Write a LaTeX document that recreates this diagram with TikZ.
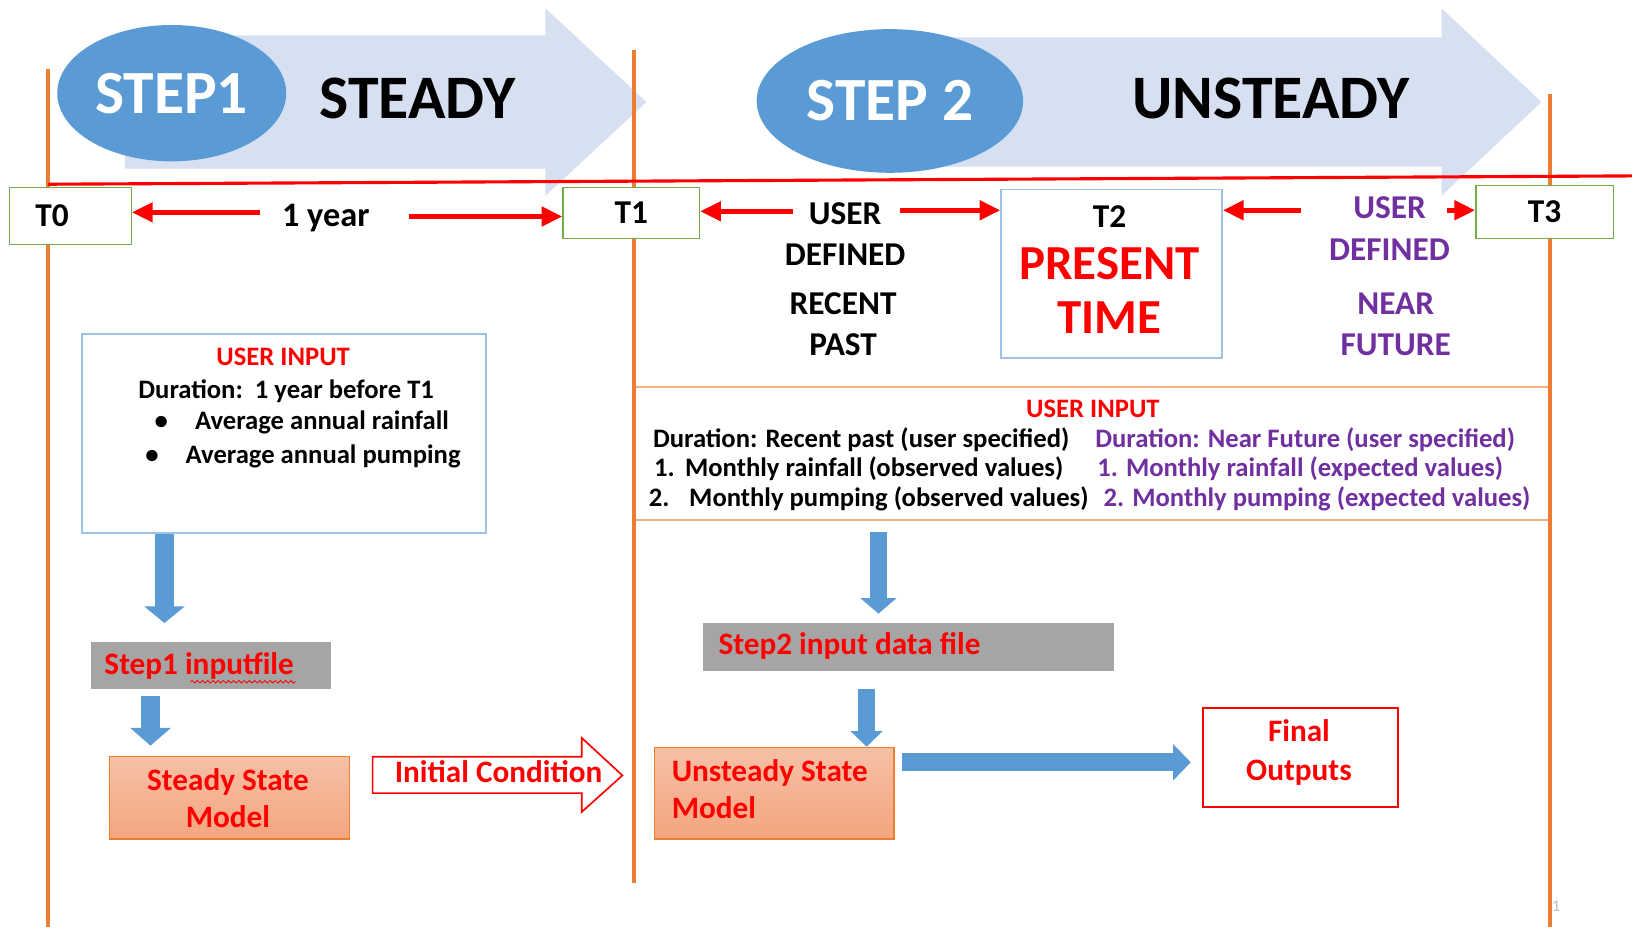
\documentclass[tikz,border=0pt]{standalone}
\usepackage{fontspec}
\setmainfont{Carlito}
\usetikzlibrary{arrows.meta,shapes.geometric,decorations.pathmorphing}
\definecolor{orangeL}{HTML}{ED7D31}
\definecolor{lblue}{HTML}{D6E0F1}
\definecolor{eblue}{HTML}{5B9BD5}
\definecolor{tgreen}{HTML}{70AD47}
\definecolor{purp}{HTML}{7030A0}
\definecolor{gbox}{HTML}{A5A5A5}
\definecolor{bxblue}{HTML}{9DC3E6}
\definecolor{lorange}{HTML}{F4B183}
\definecolor{salTop}{HTML}{F6C0A6}
\definecolor{salBot}{HTML}{F4A57F}
\tikzset{
  tbox/.style={draw=tgreen, line width=0.6pt, fill=white, inner sep=0pt, font=\fontsize{16}{18}\selectfont\bfseries},
  txt/.style={inner sep=0pt, font=\fontsize{#1}{#1}\selectfont\bfseries},
  redarr/.style={draw=red, line width=2.5pt, -{Triangle[length=10pt,width=9pt]}},
  salmon/.style={draw=orangeL, line width=0.6pt, top color=salTop, bottom color=salBot, inner sep=0pt},
  graybox/.style={fill=gbox, inner sep=0pt},
  bigball/.style={ellipse, fill=eblue, inner sep=0pt, text=white, font=\fontsize{29.5}{31}\selectfont\bfseries}
}
\begin{document}
\begin{tikzpicture}[x=0.5pt,y=-0.5pt]
\useasboundingbox (0,0) rectangle (1568,891);
\fill[white] (0,0) rectangle (1568,891);

% big light arrows
\fill[lblue] (120,34) -- (524,34) -- (524,8) -- (621,98) -- (524,188) -- (524,162) -- (120,162) -- cycle;
\fill[lblue] (860,36) -- (1385,36) -- (1385,8) -- (1481,98) -- (1385,188) -- (1385,160) -- (860,160) -- cycle;

\node[bigball, minimum width=110pt, minimum height=65.5pt] (s1) at (165,89.5) {STEP1};
\node[bigball, minimum width=128pt, minimum height=69pt] (s2) at (855,97) {STEP 2};
\node[txt=29.7] (steady) at (401,95) {STEADY};
\node[txt=29.7] (unsteady) at (1221,95) {UNSTEADY};

% user input box 2 (frame)
\node[draw=lorange, line width=1pt, minimum width=440pt, minimum height=64pt, inner sep=0pt] (ui2) at (1049,436) {};

% orange time lines
\draw[orangeL, line width=2pt] (46,66) -- (46,891);
\draw[orangeL, line width=2pt] (609,48) -- (609,848);
\draw[orangeL, line width=2pt] (1489,90) -- (1489,891);

% red time axis
\draw[red, line width=1.5pt] (46,177) -- (1568,169);

% time boxes
\node[tbox, minimum width=58.5pt, minimum height=27.5pt] (T0) at (67.5,207.5) {T0\kern17.5pt};
\node[tbox, minimum width=65.5pt, minimum height=24.5pt] (T1) at (606.5,204.5) {T1};
\node[tbox, minimum width=66pt, minimum height=25.5pt] (T3) at (1484,203.5) {T3};
\node[draw=bxblue, line width=0.8pt, fill=white, minimum width=106pt, minimum height=81pt, inner sep=0pt] (T2) at (1068,263) {};
\node[txt=16] (t2lab) at (1066,208) {T2};
\node[txt=23.5, text=red] (present) at (1066,253) {PRESENT};
\node[txt=23.5, text=red] (time) at (1066,305) {TIME};

% period labels
\node[txt=16.5, anchor=base] (year) at (313,218) {1 year};
\node[txt=16] (u1) at (812,205) {USER};
\node[txt=16] (d1) at (812,245) {DEFINED};
\node[txt=16] (r1) at (810,292) {RECENT};
\node[txt=16] (p1) at (810,331) {PAST};
\node[txt=16, text=purp] (u2) at (1335,200) {USER};
\node[txt=16, text=purp] (d2) at (1335,240) {DEFINED};
\node[txt=16, text=purp] (n2) at (1341,292) {NEAR};
\node[txt=16, text=purp] (f2) at (1341,331) {FUTURE};

% red arrows
\coordinate (yl) at (250,204);
\coordinate (yr) at (393,208);
\coordinate (ul) at (762,203);
\coordinate (ur) at (865,202);
\coordinate (pl) at (1250,202);
\coordinate (pr) at (1390,202);
\draw[redarr] (yl) -- (yl -| T0.east);
\draw[redarr] (yr) -- (yr -| T1.west);
\draw[redarr] (ul) -- (ul -| T1.east);
\draw[redarr] (ur) -- (ur -| T2.west);
\draw[redarr] (pl) -- (pl -| T2.east);
\draw[redarr] (pr) -- (pr -| T3.west);

% user input box 1
\node[draw=bxblue, line width=1pt, fill=white, minimum width=194pt, minimum height=95.5pt, inner sep=0pt] (ui1) at (273,416.5) {};
\node[txt=12.8, text=red, anchor=base] (ui1h) at (272,351) {USER INPUT};
\node[txt=12.8, anchor=base] (ui1d) at (275,383) {Duration:\ \ 1 year before T1};
\node[txt=12.8, anchor=base] (b1) at (155,413) {•};
\node[txt=12.8, anchor=base west] (ui1a) at (187,413) {Average annual rainfall};
\node[txt=12.8, anchor=base] (b2) at (146,445) {•};
\node[txt=12.8, anchor=base west] (ui1b) at (178,445) {Average annual pumping};

% user input box 2 texts
\node[txt=12.8, text=red, anchor=base] (ui2h) at (1050,401) {USER INPUT};
\node[txt=12.8, anchor=base west] (l1) at (627,430) {Duration: Recent past (user specified)};
\node[txt=12.8, anchor=base west] (l2) at (628,458) {1.\hspace{5pt}Monthly rainfall (observed values)};
\node[txt=12.8, anchor=base west] (l3) at (623,487) {2.\hspace{9.5pt}Monthly pumping (observed values)};
\node[txt=12.8, text=purp, anchor=base west] (r1l) at (1052,430) {Duration: Near Future (user specified)};
\node[txt=12.8, text=purp, anchor=base west] (r2l) at (1054,458) {1. Monthly rainfall (expected values)};
\node[txt=12.8, text=purp, anchor=base west] (r3l) at (1060,487) {2. Monthly pumping (expected values)};

% step 1 chain
\node[graybox, minimum width=115.5pt, minimum height=22.5pt] (file1) at (202.5,639.5) {};
\node[txt=15, text=red, anchor=base west] (file1t) at (100,648) {Step1 inputfile};
\draw[red, line width=0.4pt, decorate, decoration={snake, amplitude=0.6pt, segment length=2.5pt}] (183,655) -- (284,655);
\node[salmon, minimum width=115.5pt, minimum height=39.5pt] (ss) at (220.5,766.5) {};
\node[txt=15, text=red, anchor=base] (ss1) at (219,759.5) {Steady State};
\node[txt=15, text=red, anchor=base] (ss2) at (219,795.5) {Model};

\draw[eblue, line width=9pt, -{Triangle[length=8pt,width=19pt]}, shorten >=9pt]
  ([xshift=40pt]ui1.south west) -- ([xshift=40pt]ui1.south west |- file1.north);
\draw[eblue, line width=9.5pt, -{Triangle[length=8.5pt,width=19pt]}, shorten <=3pt, shorten >=5pt]
  ([xshift=29pt]file1.south west) -- ([xshift=29pt]file1.south west |- ss.north);

% initial condition block arrow
\draw[red, line width=0.8pt, fill=white] (358,727) -- (559,727) -- (559,709) -- (598,745) -- (559,780) -- (559,762) -- (358,762) -- cycle;
\node[txt=15, text=red, anchor=base] (ic) at (479,751.5) {Initial Condition};

% step 2 chain
\node[graybox, minimum width=197.5pt, minimum height=23pt] (file2) at (872.5,622) {};
\node[txt=15, text=red, anchor=base west] (file2t) at (690,629) {Step2 input data file};
\node[salmon, minimum width=115pt, minimum height=44pt] (uss) at (744,762) {};
\node[txt=15, text=red, anchor=base west] (uss1) at (645,750.5) {Unsteady State};
\node[txt=15, text=red, anchor=base west] (uss2) at (645,786.5) {Model};
\node[draw=red, line width=0.9pt, fill=white, minimum width=93.5pt, minimum height=47.5pt, inner sep=0pt] (fo) at (1249.5,727.5) {};
\node[txt=15, text=red, anchor=base] (fo1) at (1248,712.5) {Final};
\node[txt=15, text=red, anchor=base] (fo2) at (1248,749.5) {Outputs};

\draw[eblue, line width=8pt, -{Triangle[length=7.5pt,width=17pt]}, shorten <=5pt, shorten >=4.5pt]
  ([xshift=118pt]ui2.south west) -- ([xshift=118pt]ui2.south west |- file2.north);
\draw[eblue, line width=8pt, -{Triangle[length=7.5pt,width=15pt]}, shorten <=8.5pt]
  ([xshift=79pt]file2.south west) -- ([xshift=79pt]file2.south west |- uss.north);
\draw[eblue, line width=8.5pt, -{Triangle[length=8.5pt,width=17pt]}, shorten <=3.5pt, shorten >=5.5pt]
  ([yshift=-7.5pt]uss.north east) -- ([yshift=-7.5pt]uss.north east -| fo.west);

\node[inner sep=0pt, text=gray!50, font=\fontsize{8}{9}\selectfont] (pg) at (1495,871) {1};
\end{tikzpicture}
\end{document}
